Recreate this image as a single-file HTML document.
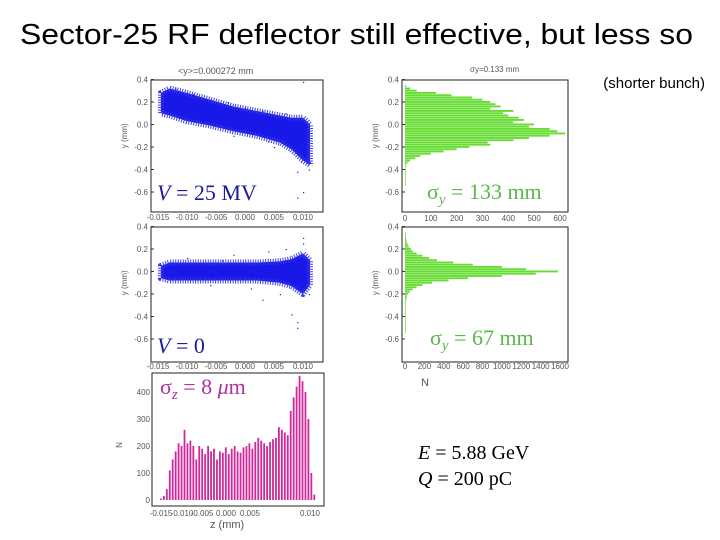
<!DOCTYPE html>
<html><head><meta charset="utf-8">
<style>
html,body{margin:0;padding:0;background:#fff;}
svg{display:block;font-family:"Liberation Sans",sans-serif;}
.tk{font-size:8px;fill:#555;}
</style></head>
<body>
<svg id="s" width="720" height="540" viewBox="0 0 720 540">
<text x="20" y="44" textLength="673" lengthAdjust="spacingAndGlyphs" font-size="29" fill="#000">Sector-25 RF deflector still effective, but less so</text>
<text x="705" y="88" text-anchor="end" font-size="15" fill="#000">(shorter bunch)</text>
<g id="g"></g>
<text x="157" y="200" font-family="Liberation Serif,serif" font-size="22" fill="#1c1c9c"><tspan font-style="italic">V</tspan> = 25 MV</text>
<text x="427" y="199" font-family="Liberation Serif,serif" font-size="22" fill="#5cb84c">σ<tspan font-style="italic" font-size="15" dy="5">y</tspan><tspan dy="-5"> = 133 mm</tspan></text>
<text x="157" y="353" font-family="Liberation Serif,serif" font-size="22" fill="#1c1c9c"><tspan font-style="italic">V</tspan> = 0</text>
<text x="430" y="345" font-family="Liberation Serif,serif" font-size="22" fill="#5cb84c">σ<tspan font-style="italic" font-size="15" dy="5">y</tspan><tspan dy="-5"> = 67 mm</tspan></text>
<text x="160" y="394" font-family="Liberation Serif,serif" font-size="22" fill="#b030a0">σ<tspan font-style="italic" font-size="15" dy="5">z</tspan><tspan dy="-5"> = 8 </tspan><tspan font-style="italic">μ</tspan>m</text>
<text x="418" y="459" font-family="Liberation Serif,serif" font-size="20" fill="#000"><tspan font-style="italic">E</tspan> = 5.88 GeV</text>
<text x="418" y="485" font-family="Liberation Serif,serif" font-size="20" fill="#000"><tspan font-style="italic">Q</tspan> = 200 pC</text>
<text x="470" y="72" font-size="8" fill="#555">σy=0.133 mm</text>
<text x="178" y="74" font-size="9" fill="#555">&lt;y&gt;=0.000272 mm</text>
<text x="421" y="386" font-size="11" fill="#555">N</text>
<text x="210" y="528" font-size="11" fill="#555">z (mm)</text>
</svg>
<script>
// scatter envelopes: z positions with lower/upper y (mm)
const zEnv = [-0.0145,-0.013,-0.010,-0.006,-0.002,0.002,0.006,0.008,0.010,0.0112];
const s1Lo = [0.10,0.08,0.03,-0.01,-0.06,-0.10,-0.16,-0.22,-0.32,-0.36];
const s1Hi = [0.28,0.32,0.28,0.22,0.16,0.12,0.08,0.06,0.06,0.00];
const s2Lo = [-0.06,-0.08,-0.08,-0.08,-0.08,-0.08,-0.10,-0.13,-0.20,-0.12];
const s2Hi = [0.05,0.08,0.08,0.08,0.08,0.08,0.09,0.11,0.16,0.10];
// outlier points [z, y]
const out1Z = [-0.012,-0.009,-0.006,-0.003,0.000,0.003,0.005,0.007,0.009,0.010,0.011,0.008,0.010,0.004,-0.002,0.009];
const out1Y = [0.32,0.27,0.22,0.20,0.15,0.12,-0.20,0.10,-0.42,-0.60,-0.40,0.05,0.38,-0.15,-0.10,-0.65];
const out2Z = [-0.010,-0.006,-0.002,0.001,0.004,0.006,0.008,0.009,0.010,0.011,0.007,0.003,-0.004,0.009,0.010];
const out2Y = [0.12,-0.12,0.15,-0.15,0.18,-0.20,-0.38,-0.45,0.25,-0.20,0.20,-0.25,0.10,-0.50,0.30];
// histogram bins (y in mm) and counts
const hY = [0.34,0.32,0.30,0.28,0.26,0.24,0.22,0.20,0.18,0.16,0.14,0.12,0.10,0.08,0.06,0.04,0.02,0.00,-0.02,-0.04,-0.06,-0.08,-0.10,-0.12,-0.14,-0.16,-0.18,-0.20,-0.22,-0.24,-0.26,-0.28,-0.30,-0.32,-0.34,-0.36,-0.38,-0.40,-0.42,-0.44,-0.46,-0.48,-0.50,-0.52,-0.54];
const h1N = [5,20,45,120,180,260,300,330,350,370,330,420,380,400,440,460,420,500,480,560,590,620,560,480,420,320,330,250,200,150,100,60,40,20,10,4,3,3,3,3,3,3,3,3,3];
const h2N = [5,5,10,15,20,30,40,60,80,120,180,250,330,500,700,1000,1250,1580,1350,1000,650,450,280,180,120,80,50,30,20,15,10,8,8,6,6,6,6,6,6,6,6,6,6,6,6];
// z histogram
const zN = [5,15,40,110,150,180,210,200,260,210,220,200,150,200,190,170,200,180,190,150,180,175,195,170,190,200,180,175,195,200,210,190,215,230,220,210,200,215,225,230,270,260,250,240,330,380,420,460,440,400,300,100,20];
const zStart = -0.0155, zStep = 0.00052;
const zTicks = ["-0.015","-0.010","-0.005","0.000","0.005","0.010"];
const yTicks = ["0.4","0.2","0.0","-0.2","-0.4","-0.6"];
const yTickV = [0.4,0.2,0,-0.2,-0.4,-0.6];
const n1Ticks = [0,100,200,300,400,500,600];
const n2Ticks = [0,200,400,600,800,1000,1200,1400,1600];
const nzTicks = [0,100,200,300,400];

const NS="http://www.w3.org/2000/svg", G=document.getElementById('g');
function mk(t,a,p){const e=document.createElementNS(NS,t);for(const k in a)e.setAttribute(k,a[k]);(p||G).appendChild(e);return e;}
const zx = v => 245 + v/0.005*29;
function yAx(top){const y0=top+44.5;return v=>y0 - v/0.2*22.5;}
function frame(x,y,w,h,name){const r=mk('rect',{x:x,y:y,width:w,height:h,fill:'none',stroke:'#222','stroke-width':1});

}
function ytick(yf,xl,lbl){for(let i=0;i<yTickV.length;i++){const y=yf(yTickV[i]);
 mk('line',{x1:xl,x2:xl+3,y1:y,y2:y,stroke:'#333'});
 const t=mk('text',{x:xl-3,y:y+3,'text-anchor':'end',class:'tk'});t.textContent=yTicks[i];
 
 }
 const t=mk('text',{x:xl-24,y:yf(-0.1),class:'tk','font-size':9,transform:'rotate(-90 '+(xl-24)+' '+yf(-0.1)+')','text-anchor':'middle'});t.textContent='y (mm)';
 
 }
function scatter(top,lo,hi,oz,oy,name){
 const yf=yAx(top);
 frame(151,top,172,top===80?132:135,name+'-frame');
 let pts=[];for(let i=0;i<zEnv.length;i++)pts.push(zx(zEnv[i])+','+yf(hi[i]));
 for(let i=zEnv.length-1;i>=0;i--)pts.push(zx(zEnv[i])+','+yf(lo[i]));
 const p=mk('polygon',{points:pts.join(' '),fill:'#1818e8',stroke:'#3a3ae8','stroke-width':6,'stroke-dasharray':'1 1.5','stroke-linejoin':'round'});
 
 
 for(let i=0;i<oz.length;i++){const c=mk('rect',{x:zx(oz[i]),y:yf(oy[i]),width:1.2,height:1.2,fill:'#1818e8'});
 
 }
 ytick(yf,151,name+'-y-axis-title');
 for(let i=0;i<zTicks.length;i++){const x=zx(-0.015+0.005*i);
 const t=mk('text',{x:x,y:top+(top===80?140:142),'text-anchor':'middle',class:'tk','font-size':7});t.textContent=zTicks[i];
 
 }
}
scatter(80,s1Lo,s1Hi,out1Z,out1Y,'scatter-v25');
scatter(227,s2Lo,s2Hi,out2Z,out2Y,'scatter-v0');
function hist(top,N,maxv,ticks,name){
 const yf=yAx(top);const x0=405, sc=155/maxv;
 frame(402,top,166,top===80?132:135,name+'-frame');
 for(let i=0;i<hY.length;i++){const b=mk('rect',{x:x0,y:yf(hY[i])-1,width:Math.max(0.8,N[i]*sc),height:1.9,fill:'#66dd33'});
 
 }
 ytick(yf,402,name+'-y-axis-title');
 for(let i=0;i<ticks.length;i++){const t=mk('text',{x:x0+ticks[i]*sc,y:top+(top===80?141:142),'text-anchor':'middle',class:'tk','font-size':top===80?10:7});t.textContent=ticks[i];
 
 }
}
hist(80,h1N,600,n1Ticks,'hist-y-v25');
hist(227,h2N,1600,n2Ticks,'hist-y-v0');
// z histogram
frame(152,373,172,133,'hist-z-frame');
const zxb = v => 160 + (v-zStart)/zStep*2.95, ny = v => 500 - v*0.27;
for(let i=0;i<zN.length;i++){const b=mk('rect',{x:zxb(zStart+i*zStep),y:ny(zN[i]),width:1.8,height:zN[i]*0.27,fill:'#d0289a'});

}
for(let i=0;i<nzTicks.length;i++){const t=mk('text',{x:150,y:ny(nzTicks[i])+3,'text-anchor':'end',class:'tk'});t.textContent=nzTicks[i];

}
const zl=['-0.015','-0.010','-0.005','0.000','0.005','0.010'], zlx=[161,182,202,226,250,310];
for(let i=0;i<zl.length;i++){const t=mk('text',{x:zlx[i],y:516,'text-anchor':'middle',class:'tk','font-size':7});t.textContent=zl[i];

}
const nl=mk('text',{x:122,y:445,class:'tk','font-size':11,transform:'rotate(-90 122 445)','text-anchor':'middle'});nl.textContent='N';


</script>
</body></html>
